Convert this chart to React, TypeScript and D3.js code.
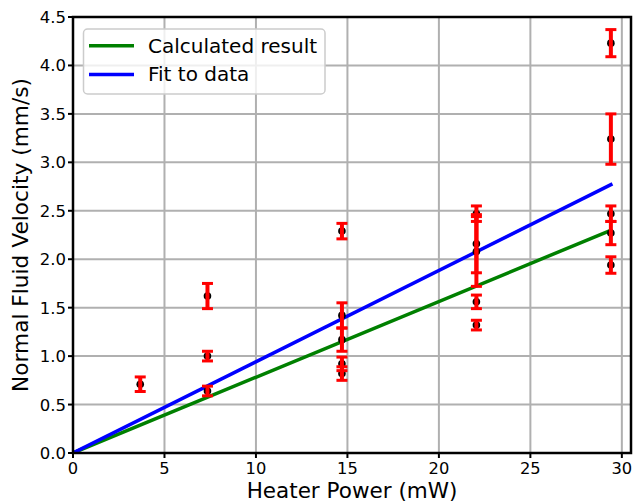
import React from "react";
import * as d3 from "d3";

// heater power settings (mW)
const powers = [3.675, 7.35, 14.7, 22.05, 29.4];

// measured velocities (mm/s) and their errors, grouped by power
const velocities = [
  [0.71],
  [1.62, 1.0, 0.64],
  [2.29, 1.42, 1.17, 0.92, 0.82],
  [2.47, 2.16, 2.08, 1.56, 1.32],
  [4.23, 3.24, 2.47, 2.27, 1.94],
];
const errors = [
  [0.075],
  [0.13, 0.05, 0.05],
  [0.08, 0.13, 0.12, 0.07, 0.07],
  [0.08, 0.3, 0.36, 0.07, 0.05],
  [0.14, 0.26, 0.08, 0.12, 0.085],
];

// slopes of the two straight lines through the origin (mm/s per mW)
const calcSlope = 0.0782;
const fitSlope = 0.0942;

const xTicks = [0, 5, 10, 15, 20, 25, 30];
const yTicks = [0, 0.5, 1, 1.5, 2, 2.5, 3, 3.5, 4, 4.5];

const W = 634,
  H = 502;
const margin = { top: 17, right: 3, bottom: 49, left: 73 };
const FONT = "DejaVu Sans, sans-serif";

export default function App() {
  const x = d3
    .scaleLinear()
    .domain([0, 30.5])
    .range([margin.left, W - margin.right]);
  const y = d3
    .scaleLinear()
    .domain([0, 4.5])
    .range([H - margin.bottom, margin.top]);

  const points = powers.flatMap((p, i) =>
    velocities[i].map((v, j) => ({ p, v, e: errors[i][j] }))
  );
  const xMax = d3.max(powers) as number;

  const line = d3
    .line<[number, number]>()
    .x((d) => x(d[0]))
    .y((d) => y(d[1]));

  const lines = [
    { slope: calcSlope, color: "#008000", label: "Calculated result" },
    { slope: fitSlope, color: "#0000ff", label: "Fit to data" },
  ];

  const x0 = margin.left,
    x1 = W - margin.right,
    y0 = H - margin.bottom,
    y1 = margin.top;

  return (
    <svg
      width={W}
      height={H}
      style={{ position: "absolute", left: 0, top: 0, background: "#fff" }}
      fontFamily={FONT}
    >
      <defs>
        <clipPath id="plot">
          <rect x={x0} y={y1} width={x1 - x0} height={y0 - y1} />
        </clipPath>
      </defs>

      {/* grid */}
      <g stroke="#b0b0b0" strokeWidth={2}>
        {xTicks.map((t) => (
          <line key={"gx" + t} x1={x(t)} x2={x(t)} y1={y0} y2={y1} />
        ))}
        {yTicks.map((t) => (
          <line key={"gy" + t} x1={x0} x2={x1} y1={y(t)} y2={y(t)} />
        ))}
      </g>

      {/* model lines */}
      <g clipPath="url(#plot)">
        {lines.map((l) => (
          <path
            key={l.label}
            d={line([
              [0, 0],
              [xMax, l.slope * xMax],
            ]) as string}
            fill="none"
            stroke={l.color}
            strokeWidth={3.5}
            strokeLinecap="square"
          />
        ))}
      </g>

      {/* data points */}
      <g>
        {points.map((d, i) => (
          <circle key={"c" + i} cx={x(d.p)} cy={y(d.v)} r={3.8} fill="#000" />
        ))}
      </g>

      {/* error bars */}
      <g stroke="#ff0000">
        {points.map((d, i) => (
          <g key={"e" + i}>
            <line
              x1={x(d.p)}
              x2={x(d.p)}
              y1={y(d.v - d.e)}
              y2={y(d.v + d.e)}
              strokeWidth={4}
            />
            <line
              x1={x(d.p) - 5.5}
              x2={x(d.p) + 5.5}
              y1={y(d.v - d.e)}
              y2={y(d.v - d.e)}
              strokeWidth={3}
            />
            <line
              x1={x(d.p) - 5.5}
              x2={x(d.p) + 5.5}
              y1={y(d.v + d.e)}
              y2={y(d.v + d.e)}
              strokeWidth={3}
            />
          </g>
        ))}
      </g>

      {/* frame */}
      <rect
        x={x0}
        y={y1}
        width={x1 - x0}
        height={y0 - y1}
        fill="none"
        stroke="#000"
        strokeWidth={2.5}
      />

      {/* x ticks */}
      <g fontSize={16.3} textAnchor="middle">
        {xTicks.map((t) => (
          <g key={"xt" + t}>
            <line x1={x(t)} x2={x(t)} y1={y0} y2={y0 + 5} stroke="#000" strokeWidth={2} />
            <text x={x(t)} y={y0 + 21.3}>
              {t}
            </text>
          </g>
        ))}
      </g>

      {/* y ticks */}
      <g fontSize={16.5} textAnchor="end">
        {yTicks.map((t) => (
          <g key={"yt" + t}>
            <line x1={x0 - 5} x2={x0} y1={y(t)} y2={y(t)} stroke="#000" strokeWidth={2} />
            <text x={x0 - 7} y={y(t) + 6}>
              {t.toFixed(1)}
            </text>
          </g>
        ))}
      </g>

      {/* axis labels */}
      <text x={(x0 + x1) / 2} y={H - 4.5} fontSize={21.5} textAnchor="middle">
        Heater Power (mW)
      </text>
      <text
        transform={`translate(28,${(y0 + y1) / 2}) rotate(-90)`}
        fontSize={21.7}
        textAnchor="middle"
      >
        Normal Fluid Velocity (mm/s)
      </text>

      {/* legend */}
      <g>
        <rect
          x={83.5}
          y={29}
          width={241.5}
          height={65}
          rx={4}
          fill="#fff"
          fillOpacity={0.8}
          stroke="#cccccc"
          strokeWidth={1.5}
        />
        {lines.map((l, i) => (
          <g key={"lg" + i}>
            <line
              x1={89}
              x2={134}
              y1={45.7 + i * 28.7}
              y2={45.7 + i * 28.7}
              stroke={l.color}
              strokeWidth={3.5}
            />
            <text x={148} y={52.7 + i * 28.7} fontSize={20}>
              {l.label}
            </text>
          </g>
        ))}
      </g>
    </svg>
  );
}
